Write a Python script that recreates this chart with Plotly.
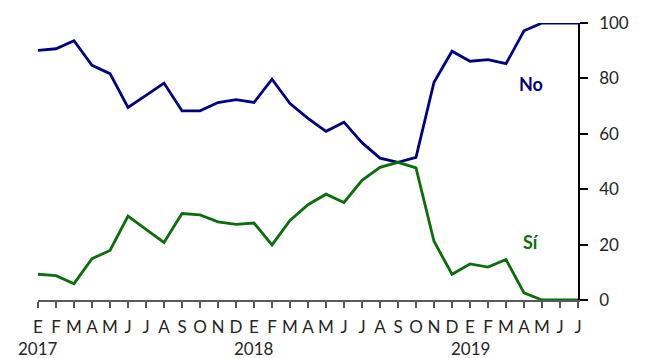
import plotly.graph_objects as go

# Monthly series, January 2017 to July 2019
months = ["E", "F", "M", "A", "M", "J", "J", "A", "S", "O", "N", "D",
          "E", "F", "M", "A", "M", "J", "J", "A", "S", "O", "N", "D",
          "E", "F", "M", "A", "M", "J", "J"]
years = ["2017", "2018", "2019"]
year_start_idx = [0, 12, 24]

no_vals = [90.1, 90.7, 93.6, 84.7, 81.7, 69.5, 73.9, 78.3, 68.3, 68.3, 71.3, 72.3,
           71.3, 79.7, 70.9, 65.6, 60.9, 64.2, 56.8, 51.2, 49.7, 51.5, 78.6, 89.8,
           86.2, 86.8, 85.3, 97.2, 100.0, 100.0, 100.0]
si_vals = [9.3, 8.8, 5.9, 14.9, 17.9, 30.3, 25.5, 20.8, 31.2, 30.7, 28.2, 27.3,
           27.8, 19.9, 28.7, 34.4, 38.2, 35.2, 43.2, 47.9, 49.7, 47.7, 21.2, 9.3,
           13.0, 11.9, 14.6, 2.6, 0.0, 0.0, 0.0]

y_ticks = [0, 20, 40, 60, 80, 100]

BLUE = "#000080"
GREEN = "#0b6e0b"
FONT = "Lato"

x_idx = list(range(len(months)))

fig = go.Figure()
fig.add_trace(go.Scatter(x=x_idx, y=no_vals, mode="lines",
                         line=dict(color=BLUE, width=2.8), cliponaxis=False,
                         hoverinfo="skip"))
fig.add_trace(go.Scatter(x=x_idx, y=si_vals, mode="lines",
                         line=dict(color=GREEN, width=2.8), cliponaxis=False,
                         hoverinfo="skip"))

# Series labels
fig.add_annotation(x=27.4, y=78.0, yanchor="middle", text="<b>No</b>",
                   showarrow=False, font=dict(family=FONT, size=18, color=BLUE))
fig.add_annotation(x=27.4, y=20.8, yanchor="middle", text="<b>Sí</b>",
                   showarrow=False, font=dict(family=FONT, size=18, color=GREEN))

# Year labels under the first month of each year
for yr, idx in zip(years, year_start_idx):
    fig.add_annotation(x=idx, y=0, yref="paper", yanchor="middle", yshift=-48,
                       text=yr, showarrow=False,
                       font=dict(family=FONT, size=17, color="#262626"))

fig.update_layout(
    width=645, height=358,
    margin=dict(l=38, r=67, t=16, b=58),
    paper_bgcolor="white", plot_bgcolor="white",
    showlegend=False,
    font=dict(family=FONT, size=17, color="#262626"),
    xaxis=dict(
        range=[0, 30], tickmode="array", tickvals=x_idx, ticktext=months,
        showgrid=False, zeroline=False,
        showline=True, linecolor="#595959", linewidth=1.5,
        ticks="outside", ticklen=6, tickcolor="#595959", tickwidth=1.5,
        tickfont=dict(family=FONT, size=17, color="#262626"),
        ticklabelstandoff=5,
    ),
    yaxis=dict(
        range=[0, 100], side="right", tickvals=y_ticks,
        showgrid=False, zeroline=False,
        showline=True, linecolor="black", linewidth=1.5,
        ticks="outside", ticklen=8, tickcolor="black", tickwidth=1.5,
        tickfont=dict(family=FONT, size=17, color="#262626"),
        ticklabelstandoff=8,
    ),
)

fig.write_html("out.html")
